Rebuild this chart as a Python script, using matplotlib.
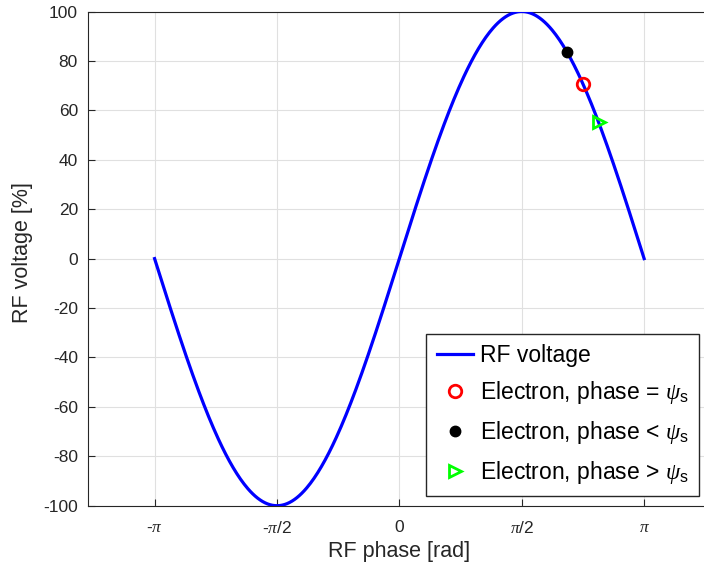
import numpy as np
import matplotlib
matplotlib.use("Agg")
import matplotlib.pyplot as plt

plt.rcParams['font.family'] = ['Liberation Sans', 'DejaVu Sans']
plt.rcParams['mathtext.fontset'] = 'custom'
plt.rcParams['mathtext.rm'] = 'Liberation Sans'
plt.rcParams['mathtext.it'] = 'Liberation Serif:italic'
plt.rcParams['axes.unicode_minus'] = False

# RF voltage curve: 100 % * sin(phase) over one period
amplitude = 100
phase_start, phase_end = -np.pi, np.pi

# electron markers (phase in rad, voltage in %)
e_sync_phase, e_sync_volt = 2.36, 70.7     # phase = psi_s
e_early_phase, e_early_volt = 2.15, 83.6   # phase < psi_s
e_late_phase, e_late_volt = 2.56, 55.3     # phase > psi_s

xtick_pos = [-np.pi, -np.pi / 2, 0, np.pi / 2, np.pi]
xtick_labels = ['-$\\pi$', '-$\\pi$/2', '0', '$\\pi$/2', '$\\pi$']
ytick_pos = list(range(-100, 101, 20))

dark = '#262626'

fig = plt.figure(figsize=(7.04, 5.71), dpi=100)
ax = fig.add_axes([87.7 / 704, 1 - 505.7 / 571, 623.3 / 704, (505.7 - 11.5) / 571])

phase = np.linspace(phase_start, phase_end, 400)
ax.plot(phase, amplitude * np.sin(phase), color='#0000ff', lw=2.3, label='RF voltage', zorder=3)
ax.plot(e_sync_phase, e_sync_volt, 'o', ms=9, mfc='none', mec='#ff0000', mew=2,
        label='Electron, phase = $\\psi_{\\rm s}$', zorder=4)
ax.plot(e_early_phase, e_early_volt, 'o', ms=7.5, color='black',
        label='Electron, phase < $\\psi_{\\rm s}$', zorder=4)
ax.plot(e_late_phase, e_late_volt, '>', ms=9, mfc='none', mec='#00ff00', mew=2,
        label='Electron, phase > $\\psi_{\\rm s}$', zorder=4)

ax.set_xlim(-4, 4)
ax.set_ylim(-100, 100)
ax.set_xticks(xtick_pos)
ax.set_xticklabels(xtick_labels)
ax.set_yticks(ytick_pos)
ax.grid(True, color='#e0e0e0', lw=0.8)
ax.set_axisbelow(True)
ax.tick_params(direction='in', length=5, colors=dark, labelsize=12.5)
ax.tick_params(axis='y', pad=7)
ax.tick_params(axis='x', pad=10)
for s in ax.spines.values():
    s.set_color(dark)
ax.spines['right'].set_visible(False)

ax.set_xlabel('RF phase [rad]', fontsize=15.5, color=dark, labelpad=4)
ax.set_ylabel('RF voltage [%]', fontsize=15.5, color=dark)
ax.yaxis.set_label_coords((33 - 87.7) / 623.3, 1 - (253 - 11.5) / 494.2)

leg = ax.legend(loc='lower right', fontsize=16.5, handlelength=1.6, handletextpad=0.3,
                labelspacing=0.55, borderpad=0.45, borderaxespad=0, fancybox=False, framealpha=1,
                bbox_to_anchor=(699 / 704, 1 - 496 / 571), bbox_transform=fig.transFigure)
leg.get_frame().set_edgecolor(dark)
leg.get_frame().set_linewidth(1)

fig.savefig('out.png', dpi=100)
